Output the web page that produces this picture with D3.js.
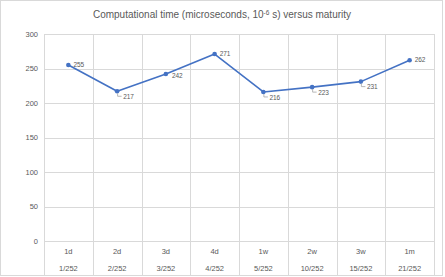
<!DOCTYPE html>
<meta charset="utf-8">
<head>
  <style>
    body { margin: 0; background: #fff; }
    text { font-family: "Liberation Sans", Arial, sans-serif; fill: #595959; }
    .grid line { stroke: #d9d9d9; stroke-width: 1; shape-rendering: crispEdges; }
  </style>
</head>
<body>
  <script src="https://d3js.org/d3.v7.min.js"></script>
  <script>
    // chart data
    var categories = ["1d", "2d", "3d", "4d", "1w", "2w", "3w", "1m"];
    var fractions = ["1/252", "2/252", "3/252", "4/252", "5/252", "10/252", "15/252", "21/252"];
    var times = [255, 217, 242, 271, 216, 223, 231, 262];
    var yTicks = [0, 50, 100, 150, 200, 250, 300];

    // how the labels sit next to each point (right, below, leader)
    var labelSide = ["right", "leader", "below", "right", "leader", "leader", "leader", "right"];

    var W = 445, H = 277;
    var plot = { left: 44, right: 434, top: 34, bottom: 241 };

    var svg = d3.select("body").append("svg")
      .attr("width", W)
      .attr("height", H);

    // chart border
    svg.append("rect")
      .attr("x", 0.5).attr("y", 0.5)
      .attr("width", W - 3).attr("height", H - 2)
      .attr("fill", "none")
      .attr("stroke", "#d9d9d9");

    var x = d3.scaleBand()
      .domain(categories)
      .range([plot.left, plot.right]);

    var y = d3.scaleLinear()
      .domain([0, 300])
      .range([plot.bottom, plot.top]);

    var grid = svg.append("g").attr("class", "grid");

    // horizontal grid
    grid.selectAll(".h")
      .data(yTicks)
      .enter().append("line")
      .attr("x1", plot.left).attr("x2", plot.right)
      .attr("y1", d => Math.round(y(d)) + 0.5)
      .attr("y2", d => Math.round(y(d)) + 0.5);

    // vertical grid, runs down through the category labels
    var bounds = categories.map(d => x(d)).concat([plot.right]);
    grid.selectAll(".v")
      .data(bounds)
      .enter().append("line")
      .attr("x1", d => Math.round(d) + 0.5).attr("x2", d => Math.round(d) + 0.5)
      .attr("y1", plot.top)
      .attr("y2", H - 2);

    // y tick labels
    svg.append("g").selectAll("text")
      .data(yTicks)
      .enter().append("text")
      .attr("x", 38)
      .attr("y", d => y(d))
      .attr("dy", "0.35em")
      .attr("text-anchor", "end")
      .style("font-size", "7.5px")
      .text(d => d);

    // category labels (two rows)
    svg.append("g").selectAll("text")
      .data(categories)
      .enter().append("text")
      .attr("x", d => x(d) + x.bandwidth() / 2)
      .attr("y", 254)
      .attr("text-anchor", "middle")
      .style("font-size", "7.5px")
      .text(d => d);

    svg.append("g").selectAll("text")
      .data(fractions)
      .enter().append("text")
      .attr("x", (d, i) => x(categories[i]) + x.bandwidth() / 2)
      .attr("y", 271)
      .attr("text-anchor", "middle")
      .style("font-size", "7.5px")
      .text(d => d);

    // title
    var title = svg.append("text")
      .attr("x", 222)
      .attr("y", 18)
      .attr("text-anchor", "middle")
      .style("font-size", "10px");
    title.append("tspan").text("Computational time (microseconds, 10");
    title.append("tspan").attr("dy", "-3").style("font-size", "6.5px").text("-6");
    title.append("tspan").attr("dy", "3").text(" s) versus maturity");

    var pts = times.map((v, i) => ({ cat: categories[i], v: v, side: labelSide[i] }));
    var cx = d => x(d.cat) + x.bandwidth() / 2;

    var line = d3.line()
      .x(cx)
      .y(d => y(d.v));

    svg.append("path")
      .datum(pts)
      .attr("d", line)
      .attr("fill", "none")
      .attr("stroke", "#4472c4")
      .attr("stroke-width", 1.6)
      .attr("stroke-linejoin", "round");

    svg.selectAll(".dot")
      .data(pts)
      .enter().append("circle")
      .attr("cx", cx)
      .attr("cy", d => y(d.v))
      .attr("r", 2.3)
      .attr("fill", "#4472c4");

    // leader lines
    svg.selectAll(".leader")
      .data(pts.filter(d => d.side == "leader"))
      .enter().append("path")
      .attr("d", d => {
        var px = cx(d) + 0.5, py = y(d.v);
        return "M" + px + "," + (py + 2) + "V" + (py + 5) + "H" + (px + 4);
      })
      .attr("fill", "none")
      .attr("stroke", "#a6a6a6")
      .attr("stroke-width", 0.8);

    // value labels
    svg.selectAll(".lbl")
      .data(pts)
      .enter().append("text")
      .attr("x", d => cx(d) + (d.side == "right" ? 5 : 6))
      .attr("y", d => y(d.v) + (d.side == "right" ? -0.5 : d.side == "below" ? 2 : 5.5))
      .attr("dy", "0.35em")
      .style("font-size", "6.5px")
      .text(d => d.v);
  </script>
</body>
